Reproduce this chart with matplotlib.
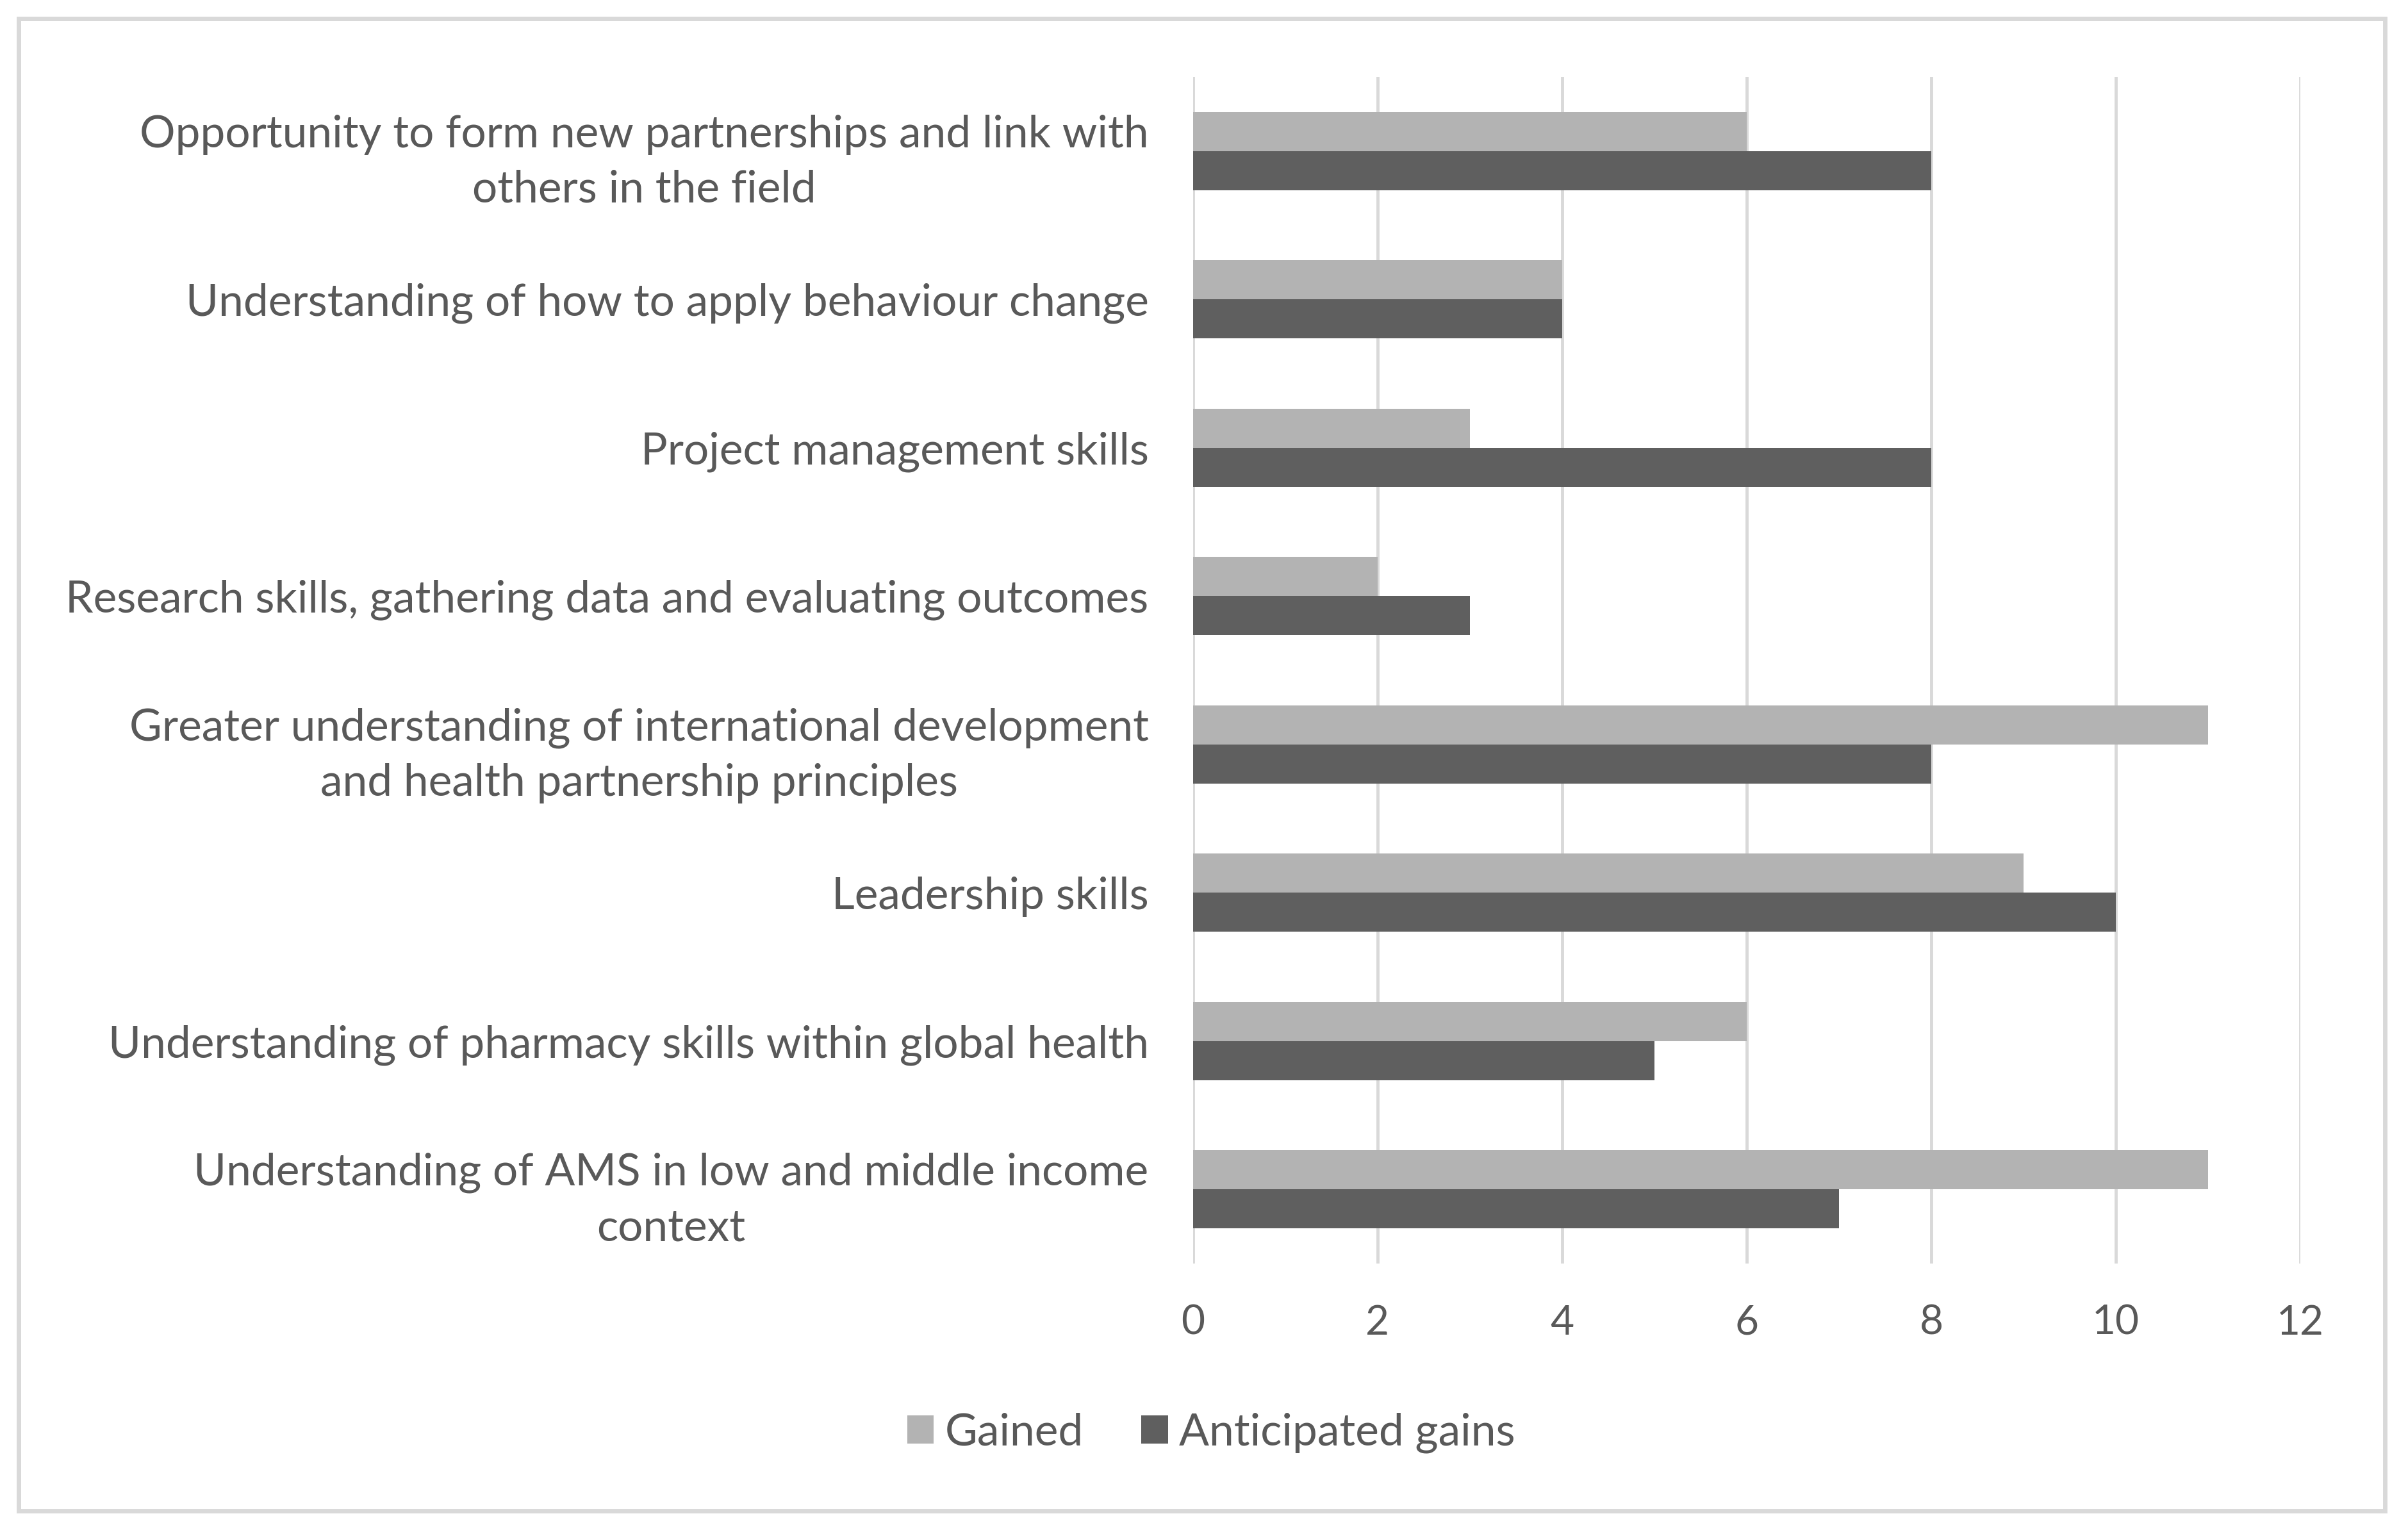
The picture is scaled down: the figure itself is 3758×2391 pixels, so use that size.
import numpy as np
import matplotlib
matplotlib.use("Agg")
import matplotlib.pyplot as plt
from matplotlib.patches import Rectangle

categories = [
    "Opportunity to form new partnerships and link with\nothers in the field",
    "Understanding of how to apply behaviour change",
    "Project management skills",
    "Research skills, gathering data and evaluating outcomes",
    "Greater understanding of international development\nand health partnership principles",
    "Leadership skills",
    "Understanding of pharmacy skills within global health",
    "Understanding of AMS in low and middle income\ncontext",
]
gained = [6, 4, 3, 2, 11, 9, 6, 11]
anticipated = [8, 4, 8, 3, 8, 10, 5, 7]
xticks = [0, 2, 4, 6, 8, 10, 12]

txt_col = "#595959"
grid_col = "#d9d9d9"
fs = 50

plt.rcParams['font.family'] = ['Lato', 'DejaVu Sans']

fig = plt.figure(figsize=(37.58, 23.91), dpi=100)
fig.patch.set_facecolor("white")

# outer chart border
fig.patches.append(Rectangle((29 / 3758, 1 - 2358 / 2391), 3693 / 3758, 2329 / 2391,
                             transform=fig.transFigure, fill=False,
                             edgecolor=grid_col, linewidth=5))

ax = fig.add_axes([1862 / 3758, 1 - 1972 / 2391, 1728 / 3758, 1852 / 2391])

y = np.arange(len(categories))
h = 0.264
ax.barh(y - h / 2, gained, height=h, color="#b3b3b3", label="Gained", zorder=3)
ax.barh(y + h / 2, anticipated, height=h, color="#5f5f5f", label="Anticipated gains", zorder=3)

ax.set_xlim(0, 12)
ax.set_ylim(len(categories) - 0.5, -0.5)
ax.set_xticks(xticks)
ax.set_yticks(y)
ax.set_yticklabels(categories, fontsize=fs, color=txt_col,
                   multialignment="center", linespacing=1.45)
ax.tick_params(axis="y", length=0, pad=50)
ax.tick_params(axis="x", length=0, pad=46, labelsize=46, labelcolor=txt_col)
ax.grid(axis="x", color=grid_col, linewidth=3.5, zorder=0)
for s in ax.spines.values():
    s.set_visible(False)

fig.legend(loc="center", bbox_to_anchor=(0.503, 1 - 2236 / 2391), ncol=2, frameon=False,
           fontsize=fs, labelcolor=txt_col, handlelength=0.6, handleheight=0.6,
           handletextpad=0.25, columnspacing=1.3)

fig.savefig("out.png", dpi=100, facecolor="white")
